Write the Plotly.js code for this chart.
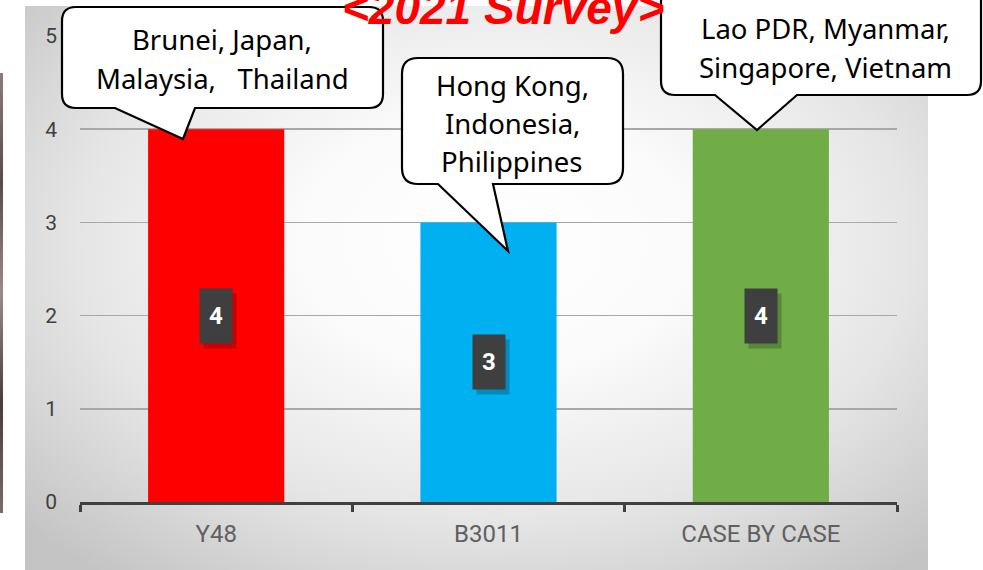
<!DOCTYPE html>
<html>
<head>
<meta charset="utf-8">
<script src="https://cdn.plot.ly/plotly-3.0.1.min.js"></script>
<style>
  html, body { margin:0; padding:0; background:#ffffff; width:983px; height:570px; overflow:hidden; }
  #panel { position:absolute; left:25px; top:6px; width:903px; height:564px;
    background: radial-gradient(ellipse 70% 75% at 52% 42%, #ffffff 0%, #fbfbfb 30%, #e6e6e6 65%, #c4c4c4 100%); }
  #strip { position:absolute; left:0; top:73px; width:3px; height:440px;
    background: linear-gradient(#8a7a78, #5a4a48, #9a8a88, #4a3a38, #7a6a68); }
  #chart { position:absolute; left:0; top:0; width:983px; height:570px; }
</style>
</head>
<body>
<div id="panel"></div>
<div id="strip"></div>
<div id="chart"></div>
<script>
// ---- data ----
const categories = ['Y48', 'B3011', 'CASE BY CASE'];
const values = [4, 3, 4];
const barColors = ['#ff0000', '#00b0f0', '#70ad47'];
const yTicks = [0, 1, 2, 3, 4, 5];
const titleText = '&lt;2021 Survey&gt;';
const calloutLines1 = ['Brunei, Japan,', 'Malaysia,\u00a0\u00a0\u00a0Thailand'];
const calloutLines2 = ['Hong Kong,', 'Indonesia,', 'Philippines'];
const calloutLines3 = ['Lao PDR, Myanmar,', 'Singapore, Vietnam'];

// ---- pixel -> paper helpers (layout geometry) ----
const L = 80, R = 86, T = 36, B = 68, W = 983, H = 570;
const PW = W - L - R, PH = H - T - B;
const px = x => (x - L) / PW;
const py = y => (H - B - y) / PH;
const P = (x, y) => px(x).toFixed(5) + ',' + py(y).toFixed(5);

function bubble(x0, y0, x1, y1, r, b0, b1, tx, ty) {
  return 'M' + P(x0 + r, y0) + ' L' + P(x1 - r, y0) + ' Q' + P(x1, y0) + ' ' + P(x1, y0 + r) +
    ' L' + P(x1, y1 - r) + ' Q' + P(x1, y1) + ' ' + P(x1 - r, y1) +
    ' L' + P(b1, y1) + ' L' + P(tx, ty) + ' L' + P(b0, y1) +
    ' L' + P(x0 + r, y1) + ' Q' + P(x0, y1) + ' ' + P(x0, y1 - r) +
    ' L' + P(x0, y0 + r) + ' Q' + P(x0, y0) + ' ' + P(x0 + r, y0) + ' Z';
}

const bubbleStyle = { type: 'path', xref: 'paper', yref: 'paper', layer: 'above',
  fillcolor: '#ffffff', line: { color: '#000000', width: 2.2 } };

const shapes = [
  Object.assign({ path: bubble(62, 7, 383, 108, 14, 115, 195, 183, 139) }, bubbleStyle),
  Object.assign({ path: bubble(402, 58, 623, 184, 16, 438, 493, 508, 251) }, bubbleStyle),
  Object.assign({ path: bubble(661, -20, 981, 95, 14, 715, 797, 757, 130) }, bubbleStyle)
];

const calloutFont = { family: 'Noto Sans, Open Sans, sans-serif', size: 27.5, color: '#000000' };
function lineAnnots(lines, cx, ys) {
  return lines.map((t, i) => ({ text: t, xref: 'paper', yref: 'paper', x: px(cx), y: py(ys[i]),
    xanchor: 'center', yanchor: 'middle', showarrow: false, font: calloutFont }));
}

const annotations = [];
// data labels (shadow + box)
categories.forEach((c, i) => {
  annotations.push({ x: c, y: values[i] / 2, xref: 'x', yref: 'y', text: ' ', showarrow: false,
    width: 32, height: 54, bgcolor: 'rgba(0,0,0,0.22)', borderpad: 0, xshift: 4, yshift: -5 });
  annotations.push({ x: c, y: values[i] / 2, xref: 'x', yref: 'y', text: '<b>' + values[i] + '</b>',
    showarrow: false, width: 32, height: 54, bgcolor: '#3f3f3f', borderpad: 0,
    font: { family: 'Roboto, sans-serif', size: 24, color: '#ffffff' } });
});
annotations.push(...lineAnnots(calloutLines1, 222, [40, 78]));
annotations.push(...lineAnnots(calloutLines2, 512, [85, 123, 161]));
annotations.push(...lineAnnots(calloutLines3, 825, [28, 67]));
annotations.push({ text: titleText, xref: 'paper', yref: 'paper', x: px(503), y: py(8),
  xanchor: 'center', yanchor: 'middle', showarrow: false,
  font: { family: 'Liberation Sans, Arial, sans-serif', size: 46, color: '#ff0000', weight: 'bold', style: 'italic' } });

const trace = {
  type: 'bar', x: categories, y: values,
  marker: { color: barColors, line: { width: 0 } },
  hoverinfo: 'skip'
};

const layout = {
  width: W, height: H,
  margin: { l: L, r: R, t: T, b: B, pad: 0 },
  paper_bgcolor: 'rgba(0,0,0,0)', plot_bgcolor: 'rgba(0,0,0,0)',
  showlegend: false, bargap: 0.5,
  xaxis: {
    type: 'category', showgrid: false, zeroline: false,
    showline: true, linecolor: '#404040', linewidth: 3,
    ticks: 'outside', tickson: 'boundaries', ticklen: 7, tickwidth: 3, tickcolor: '#404040',
    ticklabelstandoff: 8,
    tickfont: { family: 'Roboto, sans-serif', size: 24, color: '#606060' }
  },
  yaxis: {
    range: [0, 5], tickvals: yTicks, showline: false, zeroline: false,
    showgrid: true, gridcolor: '#a8a8a8', gridwidth: 1.5,
    ticks: '', ticklabelstandoff: 22,
    tickfont: { family: 'Roboto, sans-serif', size: 21, color: '#404040' }
  },
  shapes: shapes,
  annotations: annotations
};

Plotly.newPlot('chart', [trace], layout, { staticPlot: true, displayModeBar: false });
</script>
</body>
</html>
